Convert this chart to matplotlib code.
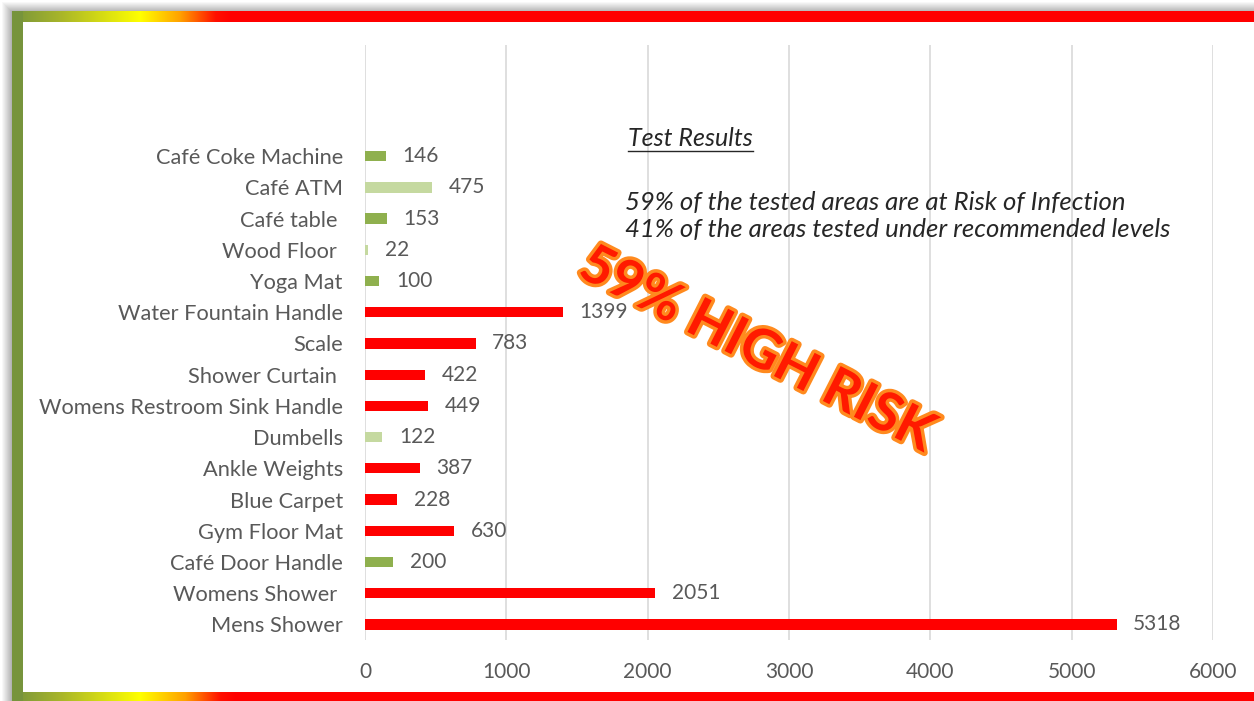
import numpy as np
import matplotlib
matplotlib.use("Agg")
import matplotlib.pyplot as plt
import matplotlib.patheffects as pe

# Daten (von oben nach unten wie im Bild)
categories = ["Café Coke Machine", "Café ATM", "Café table ", "Wood Floor ", "Yoga Mat",
              "Water Fountain Handle", "Scale", "Shower Curtain ", "Womens Restroom Sink Handle",
              "Dumbells", "Ankle Weights", "Blue Carpet", "Gym Floor Mat", "Café Door Handle",
              "Womens Shower ", "Mens Shower"]
values = [146, 475, 153, 22, 100, 1399, 783, 422, 449, 122, 387, 228, 630, 200, 2051, 5318]
levels = ["ok", "low", "ok", "low", "ok", "high", "high", "high", "high", "low",
          "high", "high", "high", "ok", "high", "high"]
xticks = [0, 1000, 2000, 3000, 4000, 5000, 6000]

level_colors = {"high": "#FF0000", "ok": "#8FB04E", "low": "#C5D9A0"}
grey = "#595959"

plt.rcParams['font.family'] = ['Lato', 'DejaVu Sans']

W, H = 1254, 701
fig = plt.figure(figsize=(W / 100, H / 100), dpi=100)
fig.patch.set_facecolor("white")

# Rahmen als Pixelbild (Zeile 0 = oben)
olive = np.array(matplotlib.colors.to_rgb("#77943C"))
frame = np.ones((H, W, 4))
frame[..., 3] = 0.0

# Schatten links und oben
for k in range(10):
    a = 0.05 + 0.06 * k
    frame[2 + k:, 2 + k, :3] = 0.5
    frame[2 + k:, 2 + k, 3] = a
    frame[2 + k, 2 + k:, :3] = 0.5
    frame[2 + k, 2 + k:, 3] = a


def gradient_row(stops):
    xs = np.arange(W)
    pos = [s[0] for s in stops]
    cols = [matplotlib.colors.to_rgb(s[1]) for s in stops]
    return np.stack([np.interp(xs, pos, [c[k] for c in cols]) for k in range(3)], axis=-1)


top = gradient_row([(12, "#77943C"), (60, "#A8B52A"), (140, "#FFFF00"), (180, "#FFA000"),
                    (215, "#FF1000"), (230, "#FF0000"), (W, "#FF0000")])
bottom = gradient_row([(12, "#77943C"), (60, "#A8B52A"), (140, "#FFFF00"), (185, "#FFA000"),
                       (220, "#FF1000"), (235, "#FF0000"), (W, "#FF0000")])
frame[12:H, 12:, 3] = 0.0
frame[11:22, 12:, :3] = top[12:]
frame[11:22, 12:, 3] = 1.0
frame[692:H, 12:, :3] = bottom[12:]
frame[692:H, 12:, 3] = 1.0
frame[11:H, 12:23, :3] = olive
frame[11:H, 12:23, 3] = 1.0
fig.figimage(frame, xo=0, yo=0, origin="upper", zorder=-1)

# Diagramm
ax = fig.add_axes([365 / W, 1 - 640 / H, (1213 - 365) / W, (640 - 45) / H])
ax.set_facecolor("none")

n = len(categories)
ypos = np.arange(n)[::-1]
colors = [level_colors[l] for l in levels]
ax.barh(ypos, values, height=0.33, color=colors, zorder=3)

for y, v in zip(ypos, values):
    ax.annotate(f"{v}", xy=(v, y), xytext=(12, 0), textcoords="offset points",
                va="center", ha="left", fontsize=15, color=grey)

ax.set_xlim(0, 6000)
ax.set_ylim(-0.5, n - 1 + 3.56)
ax.set_xticks(xticks)
ax.set_xticklabels([str(t) for t in xticks])
ax.set_yticks(ypos)
ax.set_yticklabels(categories)
ax.tick_params(axis="x", length=0, pad=16, labelsize=15, labelcolor=grey)
ax.tick_params(axis="y", length=0, pad=16, labelsize=15.7, labelcolor=grey)
ax.grid(axis="x", color="#D9D9D9", lw=1.2, zorder=0)
for s in ax.spines.values():
    s.set_visible(False)

# Texte
t = fig.text(628 / W, 1 - 138 / H, "Test Results", fontsize=18, style="italic",
             color="#262626", va="center", ha="left")
fig.text(625 / W, 1 - 203 / H, "59% of the tested areas are at Risk of Infection",
         fontsize=18.5, style="italic", color="#262626", va="center", ha="left")
fig.text(625 / W, 1 - 230 / H, "41% of the areas tested under recommended levels",
         fontsize=18.5, style="italic", color="#262626", va="center", ha="left")

fig.text(757 / W, 1 - 350 / H, "59% HIGH RISK", fontsize=39, fontweight="bold",
         color="#FF1A00", rotation=-27, ha="center", va="center", rotation_mode="anchor",
         path_effects=[pe.withStroke(linewidth=5, foreground="#FF8A1E")])

# Unterstreichung für "Test Results"
fig.canvas.draw()
bb = t.get_window_extent(fig.canvas.get_renderer())
yline = (bb.y0 - 1) / H
fig.add_artist(plt.Line2D([bb.x0 / W, bb.x1 / W], [yline, yline], color="#262626", lw=1.0))

fig.savefig("out.png", dpi=100)
